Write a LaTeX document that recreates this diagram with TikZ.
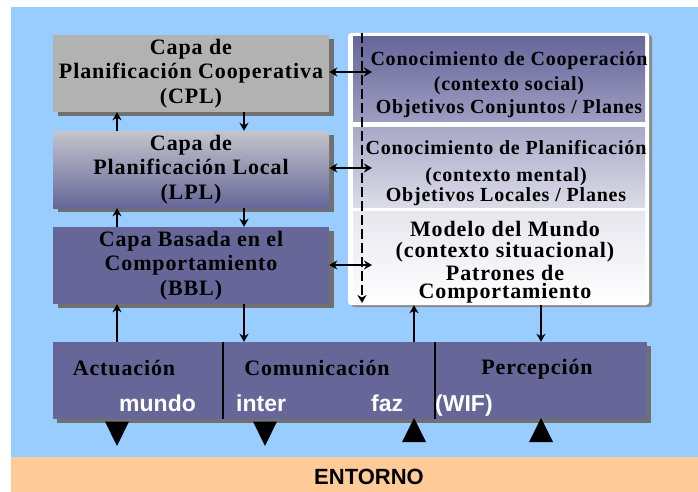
\documentclass[tikz,border=0pt]{standalone}
\usepackage{fontspec}
\setmainfont{Liberation Serif}
\newfontfamily\sansb{Liberation Sans}
\usetikzlibrary{arrows.meta,shadows}
\definecolor{bgblue}{HTML}{99CCFF}
\definecolor{envorange}{HTML}{FFCC99}
\definecolor{cplgray}{HTML}{B2B2B2}
\definecolor{slate}{HTML}{666699}
\definecolor{lpltop}{HTML}{C4C4CC}
\definecolor{shadowgray}{HTML}{707070}
\definecolor{panelshadow}{HTML}{8A8A8A}
\definecolor{bandAtop}{HTML}{66669A}
\definecolor{bandAbot}{HTML}{9E9EC2}
\definecolor{bandBtop}{HTML}{A8A8C8}
\definecolor{bandBbot}{HTML}{DCDCE8}
\definecolor{bandCtop}{HTML}{E6E6EE}
\begin{document}
\begin{tikzpicture}[x=1pt,y=-1pt,
  layerfont/.style={font=\fontsize{22}{24.5}\selectfont\bfseries\addfontfeature{LetterSpace=4}},
  layer/.style={minimum width=276pt, minimum height=77pt, inner sep=0pt, align=center, layerfont,
    drop shadow={shadow xshift=5pt, shadow yshift=-4pt, fill=shadowgray, opacity=1}},
  band/.style={minimum width=292pt, inner sep=0pt},
  knowfont/.style={font=\fontsize{20}{22}\selectfont\bfseries\addfontfeature{LetterSpace=4}},
  worldfont/.style={font=\fontsize{22}{22}\selectfont\bfseries\addfontfeature{LetterSpace=4}},
  ktext/.style={anchor=base, inner sep=0pt, align=center},
  iofont/.style={font=\fontsize{22}{24}\selectfont\bfseries\addfontfeature{LetterSpace=4}, anchor=base, inner sep=0pt},
  wlab/.style={font=\fontsize{23}{25}\selectfont\sansb\bfseries, text=white, anchor=base west, inner sep=0pt},
  arr/.style={line width=2pt, -{Stealth[length=8pt,width=9pt,inset=2.5pt]}},
  arrboth/.style={line width=2pt, {Stealth[length=8pt,width=9pt,inset=2.5pt]}-{Stealth[length=8pt,width=9pt,inset=2.5pt]}},
  dasharr/.style={line width=2pt, dash pattern=on 10pt off 4pt, -{Stealth[length=8pt,width=9pt,inset=2.5pt]}},
  divider/.style={line width=1.3pt},
  tri/.style={fill=black}
]
\useasboundingbox (0,0) rectangle (698,492);
\fill[bgblue] (11,7) rectangle (698,457);
\fill[envorange] (11,457) rectangle (698,492);
\node[font=\fontsize{22}{24}\selectfont\sansb\bfseries, anchor=base, inner sep=0pt] (env) at (369,484) {ENTORNO};

% layers
\node[layer, fill=cplgray] (cpl) at (191,73.5) {Capa de\\Planificación Cooperativa\\(CPL)};
\node[layer, top color=lpltop, bottom color=slate] (lpl) at (191,169.5) {Capa de\\Planificación Local\\(LPL)};
\node[layer, fill=slate] (bbl) at (191,265.5) {Capa Basada en el\\Comportamiento\\(BBL)};

% knowledge panel
\node[minimum width=301pt, minimum height=272pt, inner sep=0pt, fill=white, rounded corners=3pt,
  drop shadow={shadow xshift=3pt, shadow yshift=-2pt, fill=panelshadow, opacity=1}] (kp) at (498.5,169) {};
\node[band, minimum height=85pt, top color=bandAtop, bottom color=bandAbot] (k1) at (499,79.5) {};
\node[band, minimum height=80pt, top color=bandBtop, bottom color=bandBbot] (k2) at (499,167) {};
\node[band, minimum height=92pt, top color=bandCtop, bottom color=white] (k3) at (499,257) {};
\node[ktext, knowfont] (t1) at (509,113.3) {Conocimiento de Cooperación\\[3pt](contexto social)\\[0.6pt]Objetivos Conjuntos / Planes};
\node[ktext, knowfont] (t2) at (506,201.7) {Conocimiento de Planificación\\[5.7pt](contexto mental)\\[-2pt]Objetivos Locales / Planes};
\node[ktext, worldfont] (t3) at (505,298) {Modelo del Mundo\\[-0.2pt](contexto situacional)\\[0.2pt]Patrones de\\[-4pt]Comportamiento};

% interface box
\node[minimum width=594pt, minimum height=77pt, inner sep=0pt, fill=slate,
  drop shadow={shadow xshift=4pt, shadow yshift=-4pt, fill=shadowgray, opacity=1}] (io) at (350,380.5) {};
\coordinate (v1) at (223,0);
\coordinate (v2) at (435,0);
\draw[divider] (v1 |- io.north) -- (v1 |- io.south);
\draw[divider] (v2 |- io.north) -- (v2 |- io.south);
\node[iofont] (act) at (124,375) {Actuación};
\node[iofont] (com) at (317,375) {Comunicación};
\node[iofont] (per) at (537,374) {Percepción};
\node[wlab] (w1) at (119,411.7) {mundo};
\node[wlab] (w2) at (236,411.7) {inter};
\node[wlab] (w3) at (371,411.7) {faz};
\node[wlab] (w4) at (435,411.7) {(WIF)};

% triangles to/from environment
\fill[tri] (105,421.5) -- (129,421.5) -- (117,446) -- cycle;
\fill[tri] (253,421.5) -- (277,421.5) -- (265,446) -- cycle;
\fill[tri] (402,442) -- (426,442) -- (414,418) -- cycle;
\fill[tri] (529,442) -- (553,442) -- (541,418) -- cycle;

% vertical arrows
\coordinate (xa) at (117,0);
\coordinate (xb) at (244,0);
\coordinate (xc) at (414,0);
\coordinate (xd) at (541,0);
\draw[arr] (xa |- lpl.north) -- (xa |- cpl.south);
\draw[arr] (xb |- cpl.south) -- (xb |- lpl.north);
\draw[arr] (xa |- bbl.north) -- (xa |- lpl.south);
\draw[arr] (xb |- lpl.south) -- (xb |- bbl.north);
\draw[arr] (xa |- io.north) -- (xa |- bbl.south);
\draw[arr] (xb |- bbl.south) -- (xb |- io.north);
\draw[arr] (xc |- io.north) -- (xc |- kp.south);
\draw[arr] (xd |- kp.south) -- (xd |- io.north);

% dashed line and horizontal double arrows
\coordinate (dtop) at (362,33);
\coordinate (dbot) at (362,303);
\draw[dasharr] (dtop) -- (dbot);
\coordinate (a1) at (372,72);
\coordinate (a2) at (372,168);
\coordinate (a3) at (372,265);
\draw[arrboth] (cpl.east |- a1) -- (a1);
\draw[arrboth] (lpl.east |- a2) -- (a2);
\draw[arrboth] (bbl.east |- a3) -- (a3);
\end{tikzpicture}
\end{document}
